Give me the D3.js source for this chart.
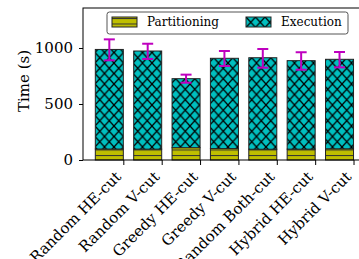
<!DOCTYPE html>
<html>
<head>
<meta charset="utf-8">
<script src="https://cdn.jsdelivr.net/npm/d3@7"></script>
<style>
  body { margin: 0; background: #fff; }
  svg { display: block; overflow: hidden; }
</style>
</head>
<body>
<div id="chart"></div>
<script>
// data
const methods = ["Random HE-cut", "Random V-cut", "Greedy HE-cut", "Greedy V-cut",
                 "Random Both-cut", "Hybrid HE-cut", "Hybrid V-cut"];
const partitioning = [98, 97, 110, 102, 96, 97, 100];
const execution = [889, 876, 616, 806, 817, 790, 799];
const errLow = [890, 902, 690, 839, 824, 806, 827];
const errHigh = [1077, 1038, 762, 973, 991, 962, 964];
const yTicks = [0, 500, 1000];

const width = 359, height = 259;
const margins = {top: 8, right: -7, bottom: 99, left: 83};
const font = "'DejaVu Serif', serif";
const colors = {part: "#bfbf00", exec: "#00bfbf", err: "#bf00bf"};

const svg = d3.select("#chart")
  .append("svg")
  .attr("width", width)
  .attr("height", height);

// hatch patterns
const defs = svg.append("defs");
const px = defs.append("pattern")
  .attr("id", "hatchX")
  .attr("patternUnits", "userSpaceOnUse")
  .attr("width", 9.5).attr("height", 10.5);
px.append("rect").attr("width", 9.5).attr("height", 10.5).attr("fill", colors.exec);
px.append("path")
  .attr("d", "M0,0L9.5,10.5M9.5,0L0,10.5M-1,-1L1,1M8.5,9.5L10.5,11.5")
  .attr("stroke", "#000").attr("stroke-width", 1.3);

const ph = defs.append("pattern")
  .attr("id", "hatchH")
  .attr("patternUnits", "userSpaceOnUse")
  .attr("width", 10).attr("height", 5.5)
  .attr("y", 1);
ph.append("rect").attr("width", 10).attr("height", 5.5).attr("fill", colors.part);
ph.append("path").attr("d", "M0,0.5H10").attr("stroke", "#333").attr("stroke-width", 1);

// scales
const xScale = d3.scaleLinear()
  .domain([-0.686, 6.69])
  .range([margins.left, width - margins.right]);
const barW = 0.73;

const yScale = d3.scaleLinear()
  .domain([0, 1357])
  .range([height - margins.bottom, margins.top]);

const rows = methods.map((m, i) => ({
  name: m, i: i,
  part: partitioning[i], exec: execution[i],
  lo: errLow[i], hi: errHigh[i]
}));

const barX = d => xScale(d.i - barW / 2);
const barWidth = xScale(barW) - xScale(0);

// partitioning bars
svg.selectAll("rect.part")
  .data(rows)
  .join("rect")
    .attr("class", "part")
    .attr("x", barX)
    .attr("width", barWidth)
    .attr("y", d => yScale(d.part))
    .attr("height", d => yScale(0) - yScale(d.part))
    .attr("fill", "url(#hatchH)")
    .attr("stroke", "#222")
    .attr("stroke-width", 1);

// execution bars stacked on top
svg.selectAll("rect.exec")
  .data(rows)
  .join("rect")
    .attr("class", "exec")
    .attr("x", barX)
    .attr("width", barWidth)
    .attr("y", d => yScale(d.part + d.exec))
    .attr("height", d => yScale(d.part) - yScale(d.part + d.exec))
    .attr("fill", "url(#hatchX)")
    .attr("stroke", "#222")
    .attr("stroke-width", 1);

// error bars
const eb = svg.selectAll("g.err")
  .data(rows)
  .join("g")
    .attr("class", "err")
    .attr("stroke", colors.err)
    .attr("stroke-width", 2);
const cx = d => xScale(d.i);
eb.append("line")
  .attr("x1", cx).attr("x2", cx)
  .attr("y1", d => yScale(d.lo)).attr("y2", d => yScale(d.hi));
eb.append("line")
  .attr("x1", d => cx(d) - 5.5).attr("x2", d => cx(d) + 5.5)
  .attr("y1", d => yScale(d.lo)).attr("y2", d => yScale(d.lo));
eb.append("line")
  .attr("x1", d => cx(d) - 5.5).attr("x2", d => cx(d) + 5.5)
  .attr("y1", d => yScale(d.hi)).attr("y2", d => yScale(d.hi));

// axes
const xAxis = d3.axisBottom(xScale)
  .tickValues(methods.map((m, i) => i + barW / 2))
  .tickFormat("")
  .tickSize(5)
  .tickSizeOuter(0);
const xGroup = svg.append("g")
  .attr("transform", `translate(0,${yScale(0)})`)
  .call(xAxis);
xGroup.select(".domain").remove();
xGroup.selectAll(".tick line").attr("stroke", "#000").attr("stroke-width", 1);

// rotated category labels
svg.selectAll("text.cat")
  .data(rows)
  .join("text")
    .attr("class", "cat")
    .attr("transform", d => `translate(${xScale(d.i + barW / 2) - 5},${yScale(0) + 14}) rotate(-45)`)
    .attr("dy", "0.35em")
    .attr("text-anchor", "end")
    .style("font-family", font)
    .style("font-size", "15px")
    .attr("fill", "#000")
    .text(d => d.name);

const yAxis = d3.axisLeft(yScale)
  .tickValues(yTicks)
  .tickFormat(d3.format("d"))
  .tickSize(4)
  .tickPadding(6)
  .tickSizeOuter(0);
const yGroup = svg.append("g")
  .attr("transform", `translate(${margins.left},0)`)
  .call(yAxis);
yGroup.select(".domain").remove();
yGroup.selectAll("text")
  .style("font-family", font)
  .style("font-size", "15px")
  .attr("fill", "#000");

// frame
svg.append("rect")
  .attr("x", margins.left)
  .attr("y", margins.top)
  .attr("width", width - margins.right - margins.left)
  .attr("height", yScale(0) - margins.top)
  .attr("fill", "none")
  .attr("stroke", "#000")
  .attr("stroke-width", 1);

// y label
svg.append("text")
  .attr("transform", `translate(29,${(margins.top + yScale(0)) / 2 - 3}) rotate(-90)`)
  .attr("text-anchor", "middle")
  .style("font-family", font)
  .style("font-size", "15px")
  .text("Time (s)");

// legend
const lg = svg.append("g").attr("transform", "translate(107,12)");
lg.append("rect")
  .attr("width", 241).attr("height", 22)
  .attr("rx", 2.5)
  .attr("fill", "#fff")
  .attr("fill-opacity", 0.85)
  .attr("stroke", "#555")
  .attr("stroke-width", 1);
const legendItems = [
  {label: "Partitioning", fill: "url(#hatchH)", x: 5},
  {label: "Execution", fill: "url(#hatchX)", x: 139}
];
const li = lg.selectAll("g.item")
  .data(legendItems)
  .join("g")
    .attr("class", "item")
    .attr("transform", d => `translate(${d.x},5)`);
li.append("rect")
  .attr("width", 25).attr("height", 10)
  .attr("fill", d => d.fill)
  .attr("stroke", "#222");
li.append("text")
  .attr("x", 35).attr("y", 5)
  .attr("dy", "0.35em")
  .style("font-family", font)
  .style("font-size", "12px")
  .text(d => d.label);
</script>
</body>
</html>
